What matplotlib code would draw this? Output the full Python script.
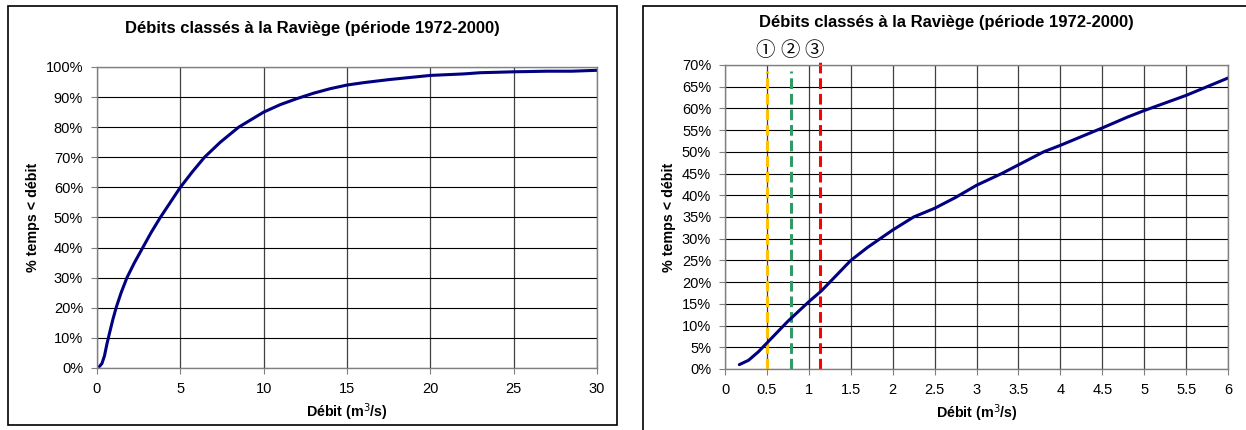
import matplotlib
matplotlib.use('Agg')
import matplotlib.pyplot as plt
from matplotlib.patches import Rectangle
from matplotlib.ticker import FuncFormatter, MultipleLocator

plt.rcParams['font.family'] = ['Liberation Sans', 'DejaVu Sans']

# courbe des débits classés, vue complète (m3/s, % du temps)
debit_full = [0.15, 0.3, 0.45, 0.6, 0.75, 0.95, 1.15, 1.45, 1.8, 2.25, 2.75, 3.25,
              3.8, 4.4, 5.0, 5.7, 6.45, 7.4, 8.5, 10.0, 11.0, 12.0, 13.0, 14.0,
              15.0, 16.0, 17.5, 20.0, 22.0, 23.0, 25.0, 27.0, 28.5, 30.0]
pct_full = [0.5, 1.5, 4, 8, 11.5, 16, 20, 25, 30, 35, 40, 45,
            50, 55, 60, 65, 70, 75, 80, 85, 87.5, 89.5, 91.3, 92.8,
            94, 94.8, 95.8, 97.2, 97.7, 98.1, 98.4, 98.6, 98.6, 98.9]

# zoom sur les faibles débits
debit_zoom = [0.17, 0.28, 0.4, 0.5, 0.75, 1.0, 1.15, 1.5, 1.7, 1.85, 2.0, 2.25,
              2.5, 2.75, 3.0, 3.3, 3.5, 3.8, 4.0, 4.5, 4.8, 5.0, 5.5, 6.0]
pct_zoom = [1, 2, 4, 6, 11, 15.5, 18, 25, 28, 30, 32, 35,
            37, 39.5, 42.3, 45, 47, 50, 51.5, 55.5, 58, 59.5, 63, 67]

# débits seuils 1, 2, 3
seuils = [0.5, 0.79, 1.13]
seuil_top = [68.5, 68.5, 71]
seuil_labels = ['①', '②', '③']
seuil_colors = ['#ffc000', '#339966', '#ff0000']

title = 'Débits classés à la Raviège (période 1972-2000)'
navy = '#000080'

fig = plt.figure(figsize=(12.46, 4.3), dpi=100)

# cadres autour des deux graphiques
fig.add_artist(Rectangle((8 / 1246, 1 - 425 / 430), 609 / 1246, 419 / 430,
                         transform=fig.transFigure, fill=False, lw=1.2, ec='black'))
fig.add_artist(Rectangle((643 / 1246, 1 - 440 / 430), 620 / 1246, 434 / 430,
                         transform=fig.transFigure, fill=False, lw=1.2, ec='black'))

# titres centrés sur les cadres
fig.text(312 / 1246, 1 - 28 / 430, title, ha='center', va='center',
         fontsize=12, fontweight='bold')
fig.text(946 / 1246, 1 - 22 / 430, title, ha='center', va='center',
         fontsize=12, fontweight='bold')

pct_fmt = FuncFormatter(lambda v, p: '%d%%' % round(v))


def style(ax):
    ax.grid(True, axis='y', color='black', lw=0.8)
    ax.grid(True, axis='x', color='#404040', lw=0.9)
    ax.set_axisbelow(True)
    for s in ax.spines.values():
        s.set_color('#808080')
        s.set_linewidth(1.0)
    ax.tick_params(axis='both', labelsize=10.5, length=4, color='#808080', pad=6)
    ax.yaxis.set_major_formatter(pct_fmt)
    ax.set_xlabel('Débit (m$^3$/s)', fontsize=10.3, fontweight='bold', labelpad=4)
    ax.set_ylabel('% temps < débit', fontsize=10.3, fontweight='bold', labelpad=4)


ax1 = fig.add_axes([0.0778, 0.1442, 0.4013, 0.700])
ax1.plot(debit_full, pct_full, color=navy, lw=2.2, solid_capstyle='round')
ax1.set_xlim(0, 30)
ax1.set_ylim(0, 100)
ax1.xaxis.set_major_locator(MultipleLocator(5))
ax1.yaxis.set_major_locator(MultipleLocator(10))
style(ax1)

ax2 = fig.add_axes([0.5819, 0.1419, 0.4037, 0.707])
for x, top, c in zip(seuils, seuil_top, seuil_colors):
    ax2.plot([x, x], [0, top], color=c, lw=2.2, ls=(0, (3.5, 1.6)), clip_on=False)
ax2.plot(debit_zoom, pct_zoom, color=navy, lw=2.2, solid_capstyle='round')
ax2.set_xlim(0, 6)
ax2.set_ylim(0, 70)
ax2.xaxis.set_major_locator(MultipleLocator(0.5))
ax2.yaxis.set_major_locator(MultipleLocator(5))
ax2.xaxis.set_major_formatter(FuncFormatter(lambda v, p: ('%g' % v)))
style(ax2)
for x, lab in zip([0.48, 0.78, 1.06], seuil_labels):
    ax2.text(x, 73.4, lab, ha='center', va='center', fontsize=14,
             family=['Noto Sans CJK JP', 'DejaVu Sans'])

fig.savefig('out.png', dpi=100)
